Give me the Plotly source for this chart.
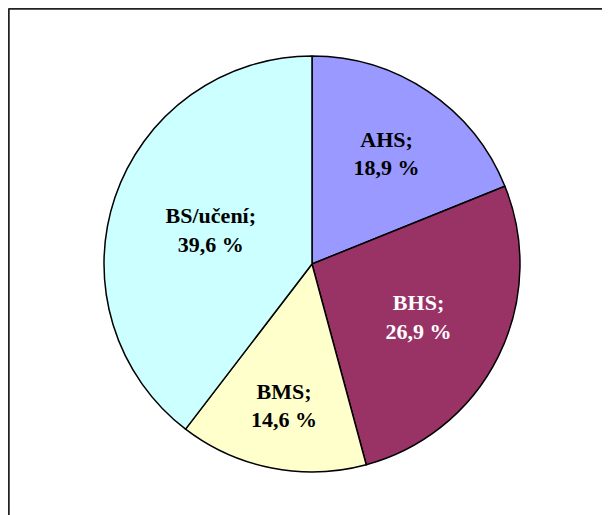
import plotly.graph_objects as go

labels = ["AHS", "BHS", "BMS", "BS/učení"]
values = [18.9, 26.9, 14.6, 39.6]
colors = ["#9999FF", "#993366", "#FFFFCC", "#CCFFFF"]
text_colors = ["black", "white", "black", "black"]

W, H = 610, 515
# pie centre / radius in figure pixels (page has an 8px body margin)
cx, cy, r = 304, 256, 208

fig = go.Figure(go.Pie(
    labels=labels,
    values=values,
    sort=False,
    direction="clockwise",
    rotation=0,
    marker=dict(colors=colors, line=dict(color="black", width=1.5)),
    texttemplate="%{label};<br>%{value:.1f} %",
    textposition="inside",
    insidetextorientation="horizontal",
    textfont=dict(family="Liberation Serif, Times New Roman, serif", size=22,
                  color=text_colors, weight="bold"),
    hoverinfo="skip",
    showlegend=False,
    domain=dict(x=[(cx - r) / W, (cx + r) / W], y=[1 - (cy + r) / H, 1 - (cy - r) / H]),
))

fig.update_layout(
    width=W, height=H,
    margin=dict(l=0, r=0, t=0, b=0),
    paper_bgcolor="white",
    separators=", ",
    shapes=[
        dict(type="line", xref="paper", yref="paper", x0=0.5 / W, x1=1.0,
             y0=1 - 0.5 / H, y1=1 - 0.5 / H, line=dict(color="#222", width=2.5)),
        dict(type="line", xref="paper", yref="paper", x0=0.5 / W, x1=0.5 / W,
             y0=0, y1=1 - 0.5 / H, line=dict(color="#222", width=2.5)),
    ],
)

fig.write_html("out.html")
